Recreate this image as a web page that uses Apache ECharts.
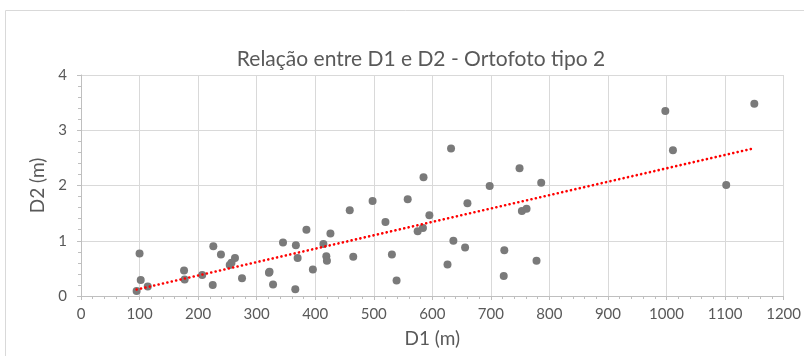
<!DOCTYPE html>
<html>
<head>
<meta charset="utf-8">
<script src="https://cdn.jsdelivr.net/npm/echarts@6/dist/echarts.min.js"></script>
<style>
  html, body { margin: 0; padding: 0; background: #fff; }
  #chart { width: 804px; height: 356px; }
</style>
</head>
<body>
<div id="chart"></div>
<script>
// D1 (m) and D2 (m)
var d1 = [95, 100, 102, 114, 176, 177, 207, 226, 225, 239,
          254, 257, 263, 275, 321, 322, 328, 345, 367, 370,
          366, 385, 396, 414, 426, 419, 420, 459, 465, 498,
          520, 531, 539, 558, 585, 575, 584, 595, 626, 632,
          636, 656, 660, 698, 723, 722, 749, 753, 761, 778,
          786, 998, 1011, 1102, 1150];
var d2 = [0.09, 0.77, 0.29, 0.17, 0.46, 0.30, 0.38, 0.90, 0.20, 0.75,
          0.56, 0.60, 0.69, 0.32, 0.42, 0.44, 0.21, 0.97, 0.92, 0.69,
          0.12, 1.20, 0.48, 0.94, 1.13, 0.72, 0.64, 1.55, 0.71, 1.72,
          1.34, 0.75, 0.28, 1.75, 2.15, 1.17, 1.23, 1.46, 0.57, 2.67,
          1.00, 0.88, 1.68, 1.99, 0.83, 0.36, 2.31, 1.54, 1.58, 0.64,
          2.05, 3.35, 2.64, 2.01, 3.48];

var titleText = 'Relação entre D1 e D2 - Ortofoto tipo 2';
var xName = 'D1 (m)';
var yName = 'D2 (m)';

var points = d1.map(function (x, i) { return [x, d2[i]]; });

// linear trend line (least squares), drawn over the data range like Excel
function linearFit(xs, ys) {
  var n = xs.length, sx = 0, sy = 0, sxx = 0, sxy = 0;
  for (var i = 0; i < n; i++) {
    sx += xs[i]; sy += ys[i];
    sxx += xs[i] * xs[i]; sxy += xs[i] * ys[i];
  }
  var b = (n * sxy - sx * sy) / (n * sxx - sx * sx);
  var a = (sy - b * sx) / n;
  return { a: a, b: b };
}
var fit = linearFit(d1, d2);
var xMin = Math.min.apply(null, d1), xMax = Math.max.apply(null, d1);
var trend = [[xMin, fit.a + fit.b * xMin], [xMax, fit.a + fit.b * xMax]];

var font = 'Lato, "Open Sans", sans-serif';
var textColor = '#595959';

var chart = echarts.init(document.getElementById('chart'));

var option = {
  animation: false,
  title: {
    text: titleText,
    left: 416,
    top: 44,
    textAlign: 'center',
    textStyle: { fontFamily: font, fontSize: 21, fontWeight: 'normal', color: textColor }
  },
  graphic: [{
    type: 'rect',
    shape: { x: 5.5, y: 10.5, width: 900, height: 400 },
    style: { fill: 'none', stroke: '#d9d9d9', lineWidth: 1 },
    silent: true
  }],
  grid: { left: 81, right: 19, top: 75, bottom: 60 },
  xAxis: {
    type: 'value',
    min: 0, max: 1200, interval: 100,
    name: xName,
    nameLocation: 'middle',
    nameGap: 33,
    nameTextStyle: { fontFamily: font, fontSize: 19, color: textColor },
    axisLine: { show: true, onZero: false, lineStyle: { color: '#bfbfbf' } },
    axisTick: { show: true, length: 4, lineStyle: { color: '#bfbfbf' } },
    minorTick: { show: true, splitNumber: 5, length: 3, lineStyle: { color: '#bfbfbf' } },
    axisLabel: {
      fontFamily: font, fontSize: 15, color: textColor, margin: 11,
      formatter: function (v) { return String(v); }
    },
    splitLine: { show: true, lineStyle: { color: '#d9d9d9', width: 1 } }
  },
  yAxis: {
    type: 'value',
    min: 0, max: 4, interval: 1,
    name: yName,
    nameLocation: 'middle',
    nameGap: 31,
    nameTextStyle: { fontFamily: font, fontSize: 19, color: textColor },
    axisLine: { show: true, lineStyle: { color: '#bfbfbf' } },
    axisTick: { show: true, length: 4, lineStyle: { color: '#bfbfbf' } },
    minorTick: { show: true, splitNumber: 5, length: 3, lineStyle: { color: '#bfbfbf' } },
    axisLabel: { fontFamily: font, fontSize: 15, color: textColor, margin: 14 },
    splitLine: { show: true, lineStyle: { color: '#d9d9d9', width: 1 } }
  },
  series: [
    {
      name: 'D2',
      type: 'scatter',
      data: points,
      symbolSize: 8,
      itemStyle: { color: '#7a7a7a', opacity: 1 }
    },
    {
      name: 'Linear',
      type: 'line',
      data: trend,
      symbol: 'none',
      z: 3,
      lineStyle: { color: '#ff0000', width: 2.6, type: [0.1, 4.4], cap: 'round' }
    }
  ]
};

chart.setOption(option);
</script>
</body>
</html>
